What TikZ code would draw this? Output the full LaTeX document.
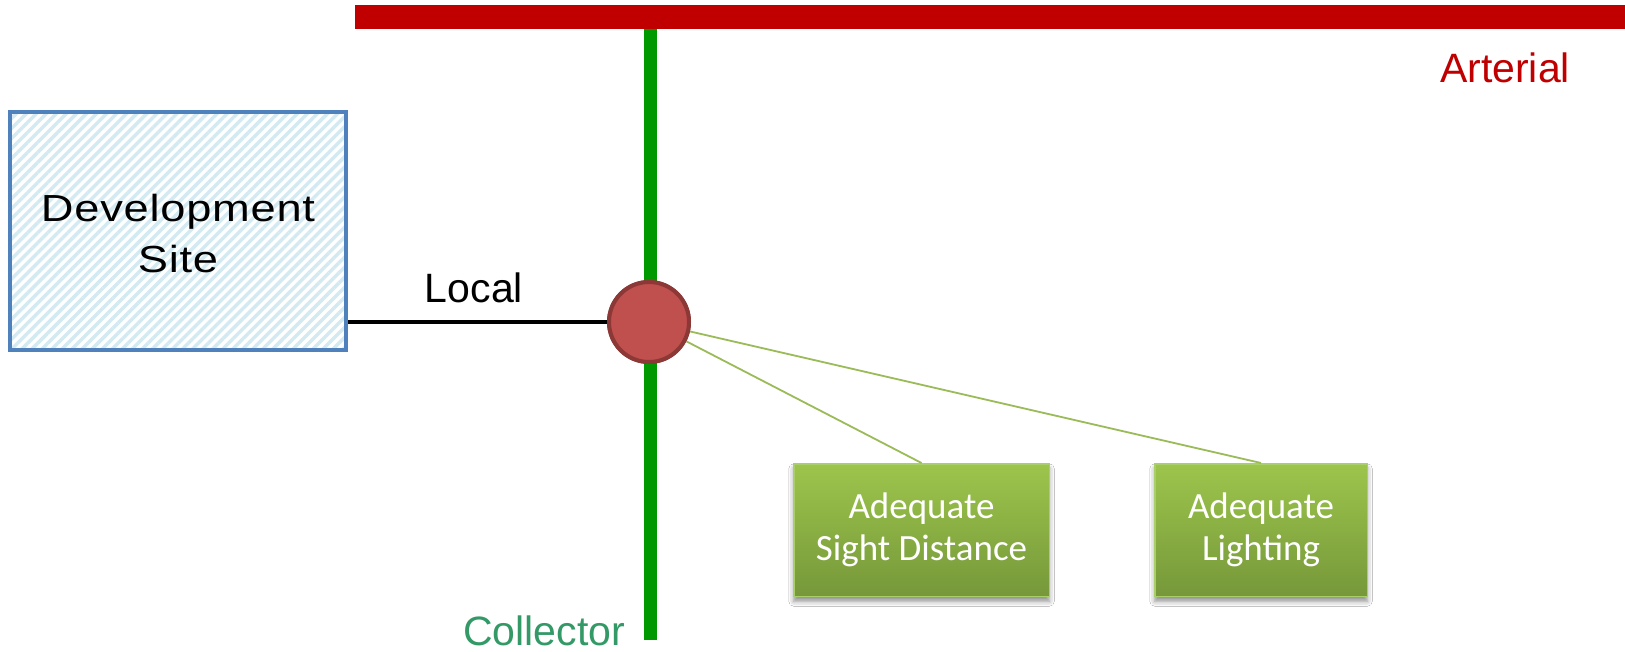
\documentclass[tikz,border=0pt]{standalone}
\usepackage{fontspec}
\setmainfont{Liberation Sans}
\newfontfamily\roadfont{Liberation Sans}
\newfontfamily\sitefont[FakeStretch=1.2, LetterSpace=2]{Liberation Sans}
\newfontfamily\boxfont{Carlito}
\usetikzlibrary{patterns.meta,shadows.blur}

\definecolor{arterialred}{HTML}{C00000}
\definecolor{collectorgreen}{HTML}{009900}
\definecolor{collectortext}{HTML}{339966}
\definecolor{siteblue}{HTML}{4F81BD}
\definecolor{sitestripe}{HTML}{D3EAF2}
\definecolor{nodefill}{HTML}{C0504D}
\definecolor{nodeedge}{HTML}{8C3836}
\definecolor{boxtop}{HTML}{9DC54C}
\definecolor{boxbottom}{HTML}{76983A}
\definecolor{boxedge}{HTML}{A9CF6A}
\definecolor{linkgreen}{HTML}{9BBB59}

\tikzset{
  sitebox/.style={rectangle, draw=siteblue, line width=4pt,
    minimum width=336pt, minimum height=238pt, inner sep=0pt,
    pattern={Lines[angle=45,distance=7.1pt,line width=3.4pt]},
    pattern color=sitestripe},
  sitetext/.style={font=\sitefont\fontsize{37.7}{51}\selectfont, align=center, inner sep=0pt},
  roadlabel/.style={font=\roadfont\fontsize{41}{49}\selectfont, inner sep=0pt, anchor=base},
  arterialroad/.style={draw=arterialred, line width=24pt},
  collectorroad/.style={draw=collectorgreen, line width=13pt},
  localroad/.style={draw=black, line width=3.2pt},
  junction/.style={circle, fill=nodefill, draw=nodeedge, line width=4pt,
    minimum size=80pt, inner sep=0pt},
  measure/.style={rectangle, draw=boxedge, line width=1.5pt,
    top color=boxtop, bottom color=boxbottom,
    minimum height=132.5pt, inner sep=0pt, align=center,
    text=white, font=\boxfont\fontsize{37}{42}\selectfont,
    blur shadow={shadow xshift=0pt, shadow yshift=-5pt,
      shadow blur radius=5pt, shadow opacity=45}},
  link/.style={draw=linkgreen, line width=1.8pt},
}

\begin{document}
\begin{tikzpicture}[x=1pt, y=-1pt]
  \useasboundingbox[fill=white] (0,0) rectangle (1625,652);

  % arterial road along the top
  \coordinate (artW) at (355,17);
  \coordinate (artE) at (1625,17);
  \draw[arterialroad] (artW) -- (artE);
  \node[roadlabel, text=arterialred] (artlabel) at (1505,83) {Arterial};

  % collector road running down from the arterial
  \coordinate (colN) at (650,29);
  \coordinate (colS) at (650,640);
  \draw[collectorroad] (colN) -- (colS);
  \node[roadlabel, text=collectortext] (collabel) at (544,645) {Collector};

  % development site
  \node[sitebox] (site) at (178,231) {};
  \node[sitetext] (sitelabel) at (178,234) {Development\\Site};

  % measures at the junction
  \node[measure, minimum width=255.5pt] (sight) at (921.5,530) {Adequate\\Sight Distance};
  \node[measure, minimum width=212.5pt] (lighting) at (1261,530) {Adequate\\Lighting};

  % junction of the local road with the collector
  \node[junction] (inter) at (649,322) {};
  \draw[link] (inter) -- (sight.north);
  \draw[link] (inter) -- (lighting.north);
  \node[junction] at (inter) {};

  % local road from the site
  \draw[localroad] (inter.west) -- (inter.west -| site.east);
  \node[roadlabel] (locallabel) at (474,303) {Local};
\end{tikzpicture}
\end{document}
